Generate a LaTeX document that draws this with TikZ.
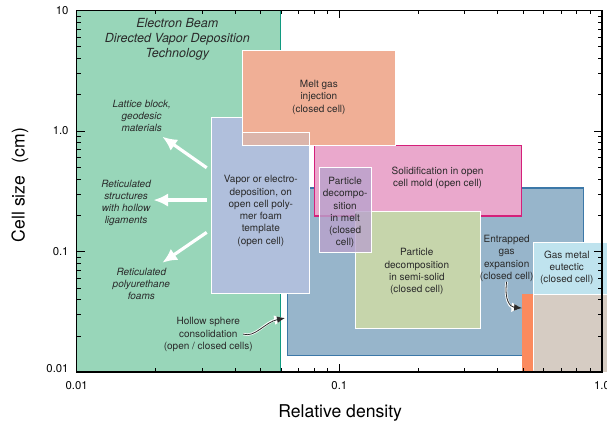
\documentclass[tikz,border=0pt]{standalone}
\usepackage{fontspec}
\setmainfont{TeX Gyre Heros}
\usetikzlibrary{arrows.meta}
\definecolor{dvdgreen}{HTML}{98D6B9}
\definecolor{dvdedge}{HTML}{109A80}
\definecolor{meltsalmon}{HTML}{F0AF96}
\definecolor{vaporblue}{HTML}{B0BFDC}
\definecolor{overlapgray}{HTML}{DBB5AB}
\definecolor{solidpink}{HTML}{EAA8CC}
\definecolor{solidedge}{HTML}{D4207A}
\definecolor{steelblue}{HTML}{97B5CB}
\definecolor{steeledge}{HTML}{3C78A8}
\definecolor{meltpurple}{HTML}{B9A2CC}
\definecolor{semigreen}{HTML}{C6D5AB}
\definecolor{gasorange}{HTML}{FB8A5E}
\definecolor{eutcyan}{HTML}{BFE3EE}
\definecolor{eutgray}{HTML}{D6CCC3}
\definecolor{inkgray}{HTML}{2A2A2A}
\begin{document}
\begin{tikzpicture}[x=196.95pt,y=90.375pt,
        region/.style={draw=white,line width=0.8pt},
        boxtext/.style={align=center,inner sep=0pt,text=inkgray,font=\fontsize{7.5}{9.2}\selectfont},
        ittext/.style={align=center,inner sep=0pt,text=inkgray,font=\fontsize{7.5}{9}\selectfont\itshape},
        ticklabel/.style={inner sep=0pt,font=\fontsize{8.5}{10}\selectfont},
        axislabel/.style={inner sep=0pt,font=\fontsize{13.2}{15}\selectfont},
        whitearrow/.style={draw=white,line width=2.4pt,-{Latex[length=11pt,width=10pt]}},
        halo/.style={draw=white,line width=1.8pt,-{Latex[length=8pt,width=7.5pt]}},
        callout/.style={draw=inkgray,line width=0.6pt,-{Latex[length=6pt,width=5pt]}}]
    \useasboundingbox (-0.292,-0.440) rectangle (2.019,3.087);
    %% EB-DVD region
    \fill[dvdgreen] (0,0) rectangle (0.777,3);
    \draw[dvdedge,line width=0.8pt] (0.777,0) -- (0.777,3);
    %% process windows
    \filldraw[fill=steelblue,draw=steeledge,line width=0.8pt] (0.802,0.139) rectangle (1.929,1.527);
    \filldraw[fill=solidpink,draw=solidedge,line width=0.8pt] (0.904,1.295) rectangle (1.692,1.876);
    \filldraw[region,fill=semigreen] (1.061,0.359) rectangle (1.537,1.336);
    \filldraw[region,fill=vaporblue] (0.514,0.653) rectangle (0.888,2.114);
    \filldraw[region,fill=meltsalmon] (0.632,1.876) rectangle (1.212,2.666);
    \filldraw[region,fill=overlapgray] (0.632,1.876) rectangle (0.888,1.989);
    \filldraw[region,fill=meltpurple,fill opacity=0.8] (0.924,0.993) rectangle (1.121,1.695);
    \fill[gasorange] (1.697,0) rectangle (1.739,0.645);
    \filldraw[region,fill=eutcyan] (1.739,0.645) rectangle (2.05,1.073);
    \filldraw[region,fill=eutgray] (1.739,0) rectangle (2.05,0.645);
    %% axes and ticks
    \draw[line width=0.9pt] (0,0) rectangle (2,3);
    \foreach \d in {0,1,2}
        \draw (\d,0) -- ++(0,6pt) (\d,3) -- ++(0,-6pt);
    \foreach \d in {0,1,...,3}
        \draw (0,\d) -- ++(6pt,0) (2,\d) -- ++(-6pt,0);
    \foreach \d in {0,1} \foreach \m in {2,...,9}
        \draw ({\d+log10(\m)},0) -- ++(0,3pt) ({\d+log10(\m)},3) -- ++(0,-3pt);
    \foreach \d in {0,1,2} \foreach \m in {2,...,9}
        \draw (0,{\d+log10(\m)}) -- ++(3pt,0) (2,{\d+log10(\m)}) -- ++(-3pt,0);
    \foreach \y/\t [count=\i] in {0.03/0.01,1/0.1,2/1.0,3/10}
        \node[ticklabel,anchor=east] (ytick\i) at (-0.03,\y) {\t};
    \foreach \x/\t [count=\i] in {0/0.01,1/0.1,2/1.0}
        \node[ticklabel] (xtick\i) at (\x,-0.108) {\t};
    \node[axislabel,rotate=90] (ylabel) at (-0.216,1.552) {Cell size\hspace{0.7em}(cm)};
    \node[axislabel] (xlabel) at (1.003,-0.34) {Relative density};
    %% labels
    \node[ittext,font=\fontsize{9.4}{11.25}\selectfont\itshape] (ebdvd) at (0.383,2.761) {Electron Beam\\Directed Vapor Deposition\\Technology};
    \node[ittext] (lattice) at (0.2475,2.129) {Lattice block,\\geodesic\\materials};
    \node[ittext] (hollowlig) at (0.188,1.407) {Reticulated\\structures\\with hollow\\ligaments};
    \node[ittext] (pufoam) at (0.246,0.733) {Reticulated\\polyurethane\\foams};
    \node[boxtext] (vapor) at (0.701,1.336) {Vapor or electro-\\deposition, on\\open cell poly-\\mer foam\\template\\(open cell)};
    \node[boxtext] (meltgas) at (0.922,2.280) {Melt gas\\injection\\(closed cell)};
    \node[boxtext] (solidif) at (1.374,1.614) {Solidification in open\\cell mold (open cell)};
    \node[boxtext] (partmelt) at (1.022,1.322) {Particle\\decompo-\\sition\\in melt\\(closed\\cell)};
    \node[boxtext] (semisolid) at (1.295,0.832) {Particle\\decomposition\\in semi-solid\\(closed cell)};
    \node[boxtext] (entrap) at (1.637,0.944) {Entrapped\\gas\\expansion\\(closed cell)};
    \node[boxtext] (eutectic) at (1.866,0.866) {Gas metal\\eutectic\\(closed cell)};
    \node[boxtext] (hollow) at (0.501,0.310) {Hollow sphere\\consolidation\\(open / closed cells)};
    %% arrows
    \coordinate (arrtail1) at (0.495,1.695);
    \coordinate (arrtip1) at (0.326,1.953);
    \coordinate (arrtail2) at (0.497,1.427);
    \coordinate (arrtip2) at (0.292,1.427);
    \coordinate (arrtail3) at (0.495,1.159);
    \coordinate (arrtip3) at (0.326,0.907);
    \foreach \i in {1,2,3}
        \draw[whitearrow] (arrtail\i) -- (arrtip\i);
    \coordinate (hollowstart) at (0.634,0.315);
    \coordinate (hollowend) at (0.793,0.448);
    \coordinate (entrapend) at (1.696,0.531);
    \draw[halo] (hollowstart) .. controls (0.679,0.282) and (0.717,0.415) .. (hollowend);
    \draw[callout] (hollowstart) .. controls (0.679,0.282) and (0.717,0.415) .. (hollowend);
    \draw[halo] (entrap.south) .. controls (1.627,0.598) and (1.650,0.539) .. (entrapend);
    \draw[callout] (entrap.south) .. controls (1.627,0.598) and (1.650,0.539) .. (entrapend);
\end{tikzpicture}
\end{document}
